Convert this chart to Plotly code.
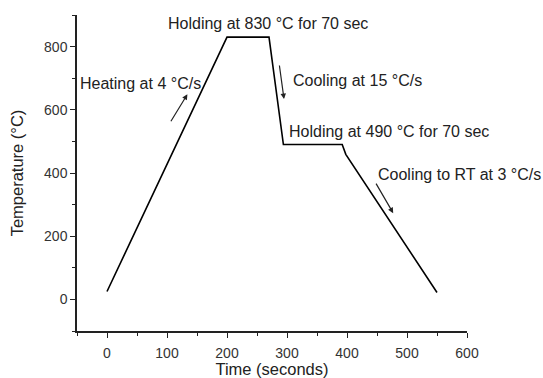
import plotly.graph_objects as go

# Heat-treatment schedule (time in s, temperature in °C)
time_s = [0, 200, 270, 294, 392, 398, 550]
temp_c = [25, 830, 830, 490, 490, 459, 22]

x_ticks = [0, 100, 200, 300, 400, 500, 600]
y_ticks = [0, 200, 400, 600, 800]

labels = [
    "Holding at 830 °C for 70 sec",
    "Heating at 4 °C/s",
    "Cooling at 15 °C/s",
    "Holding at 490 °C for 70 sec",
    "Cooling to RT at 3 °C/s",
]
label_x = [268, 55, 417, 470, 587]
label_y = [872, 684, 694, 530, 396]

# arrows: (tail_x, tail_y, head_x, head_y)
arrow_tail_x = [105, 287, 447]
arrow_tail_y = [559, 745, 371]
arrow_head_x = [134, 295, 477]
arrow_head_y = [649, 634, 273]

FONT = "Liberation Sans, Arial, sans-serif"

fig = go.Figure()
fig.add_trace(go.Scatter(x=time_s, y=temp_c, mode="lines",
                         line=dict(color="black", width=1.6),
                         showlegend=False, hoverinfo="skip"))

for t, x, y in zip(labels, label_x, label_y):
    fig.add_annotation(x=x, y=y, xref="x", yref="y", text=t, showarrow=False,
                       xanchor="center", yanchor="middle",
                       font=dict(family=FONT, size=16, color="#222"))

for tx, ty, hx, hy in zip(arrow_tail_x, arrow_tail_y, arrow_head_x, arrow_head_y):
    fig.add_annotation(x=hx, y=hy, ax=tx, ay=ty, xref="x", yref="y",
                       axref="x", ayref="y", text="", showarrow=True,
                       arrowhead=2, arrowsize=0.9, arrowwidth=1.2,
                       arrowcolor="#222")

axis_common = dict(showline=True, linecolor="#222", linewidth=1.5,
                   ticks="outside", ticklen=5, tickwidth=1.3, tickcolor="#222",
                   showgrid=False, zeroline=False, mirror=False, automargin=False,
                   tickfont=dict(family=FONT, size=14, color="#333"),
                   title_font=dict(family=FONT, size=16.5, color="#222"))

fig.update_xaxes(range=[-50, 600], tickvals=x_ticks, title_text="Time (seconds)",
                 title_standoff=8, ticklabelstandoff=3,
                 minor=dict(ticks="outside", ticklen=3, dtick=50, tick0=-50,
                            tickcolor="#222", tickwidth=1.2),
                 **axis_common)
fig.update_yaxes(range=[-100, 900], tickvals=y_ticks, title_text="Temperature (°C)",
                 title_standoff=16,
                 minor=dict(ticks="outside", ticklen=3, dtick=100, tick0=-100,
                            tickcolor="#222", tickwidth=1.2),
                 **axis_common)

fig.update_layout(width=543, height=378,
                  margin=dict(l=77, r=76, t=15, b=47),
                  plot_bgcolor="white", paper_bgcolor="white",
                  font=dict(family=FONT))

fig.write_html("out.html")
